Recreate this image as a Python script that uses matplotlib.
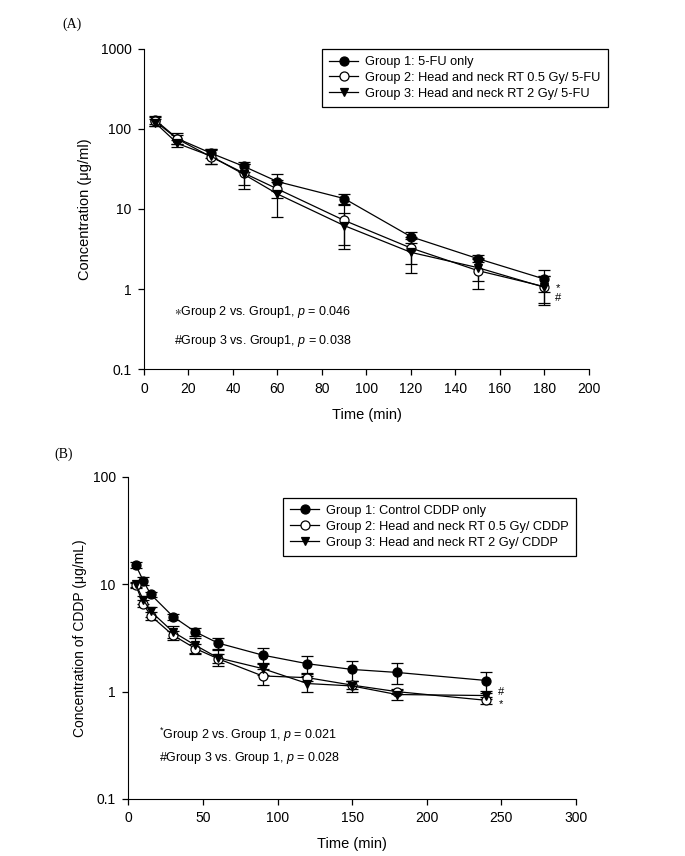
import matplotlib
matplotlib.use("Agg")
import matplotlib.pyplot as plt

plt.rcParams['font.family'] = ['Liberation Sans', 'DejaVu Sans']
plt.rcParams['mathtext.fontset'] = 'custom'
plt.rcParams['mathtext.rm'] = 'Liberation Sans'
plt.rcParams['mathtext.it'] = 'Liberation Sans:italic'
plt.rcParams['mathtext.fallback'] = 'stixsans'

# panel A: 5-FU
time_a = [5, 15, 30, 45, 60, 90, 120, 150, 180]
g1_a = [130, 76, 50, 34, 22, 13.5, 4.5, 2.4, 1.33]
g1_a_err = [15, 12, 6, 5, 5, 2, 0.7, 0.25, 0.4]
g2_a = [125, 75, 45, 28, 17.8, 7.2, 3.25, 1.7, 1.07]
g2_a_err = [15, 10, 9, 8, 4, 4, 1.2, 0.7, 0.4]
g3_a = [120, 66, 46, 27, 15.4, 6.2, 2.87, 1.85, 1.05]
g3_a_err = [12, 6, 10, 9, 7.5, 2.7, 1.3, 0.6, 0.42]
labels_a = ['Group 1: 5-FU only',
            'Group 2: Head and neck RT 0.5 Gy/ 5-FU',
            'Group 3: Head and neck RT 2 Gy/ 5-FU']

# panel B: CDDP
time_b = [5, 10, 15, 30, 45, 60, 90, 120, 150, 180, 240]
g1_b = [15.1, 10.8, 8.07, 5.0, 3.6, 2.84, 2.19, 1.82, 1.61, 1.51, 1.27]
g1_b_err = [1.0, 0.9, 0.4, 0.3, 0.3, 0.35, 0.38, 0.33, 0.34, 0.33, 0.26]
g2_b = [9.8, 6.6, 5.1, 3.35, 2.52, 2.03, 1.40, 1.35, 1.15, 1.0, 0.83]
g2_b_err = [0.5, 0.5, 0.4, 0.3, 0.25, 0.2, 0.24, 0.1, 0.1, 0.05, 0.06]
g3_b = [10.0, 7.2, 5.6, 3.6, 2.7, 2.07, 1.64, 1.19, 1.13, 0.94, 0.92]
g3_b_err = [0.6, 0.6, 0.6, 0.45, 0.45, 0.35, 0.2, 0.2, 0.13, 0.1, 0.06]
labels_b = ['Group 1: Control CDDP only',
            'Group 2: Head and neck RT 0.5 Gy/ CDDP',
            'Group 3: Head and neck RT 2 Gy/ CDDP']

styles = [dict(marker='o', mfc='black', ms=6.5),
          dict(marker='o', mfc='white', ms=6.5),
          dict(marker='v', mfc='black', ms=6)]

fig = plt.figure(figsize=(6.85, 8.56), dpi=100)
ax1 = fig.add_axes([0.2102, 0.5689, 0.6496, 0.3739])
ax2 = fig.add_axes([0.1873, 0.0666, 0.6536, 0.3762])


def draw(ax, t, series, labels):
    handles = []
    for (y, e), lab, st in zip(series, labels, styles):
        c = ax.errorbar(t, y, yerr=e, color='black', lw=0.9, elinewidth=0.9,
                        capsize=4, capthick=0.9, mec='black', mew=0.9,
                        label=lab, **st)
        handles.append(c[0])
    ax.set_yscale('log')
    ax.spines['top'].set_visible(False)
    ax.spines['right'].set_visible(False)
    ax.minorticks_off()
    ax.tick_params(direction='out', length=4, width=0.9, labelsize=10, pad=5)
    return handles


def legend(ax, handles, labels, anchor):
    leg = ax.legend(handles, labels, loc='upper left', bbox_to_anchor=anchor,
                    fontsize=9.2, fancybox=False, edgecolor='black', framealpha=1,
                    handlelength=2.3, borderpad=0.55, labelspacing=0.3,
                    handletextpad=0.55, borderaxespad=0)
    leg.get_frame().set_linewidth(0.9)


h = draw(ax1, time_a, [(g1_a, g1_a_err), (g2_a, g2_a_err), (g3_a, g3_a_err)], labels_a)
ax1.set_xlim(0, 200)
ax1.set_ylim(0.1, 1000)
ax1.set_xticks(range(0, 201, 20))
ax1.set_yticks([0.1, 1, 10, 100, 1000])
ax1.set_yticklabels(['0.1', '1', '10', '100', '1000'])
ax1.set_xlabel('Time (min)', fontsize=10.5, labelpad=9)
ax1.set_ylabel('Concentration (\u03bcg/ml)', fontsize=10.5, labelpad=6)
legend(ax1, h, labels_a, (0.40, 1.0))
ax1.text(0.067, 0.178, r'$\ast$Group 2 vs. Group1, $p$ = 0.046',
         transform=ax1.transAxes, fontsize=9, va='center')
ax1.text(0.067, 0.087, '#Group 3 vs. Group1, $p$ = 0.038',
         transform=ax1.transAxes, fontsize=9, va='center')
ax1.text(186, 1.03, '*', fontsize=8, va='center', ha='center')
ax1.text(186, 0.78, '#', fontsize=8, va='center', ha='center')

h = draw(ax2, time_b, [(g1_b, g1_b_err), (g2_b, g2_b_err), (g3_b, g3_b_err)], labels_b)
ax2.set_xlim(0, 300)
ax2.set_ylim(0.1, 100)
ax2.set_xticks(range(0, 301, 50))
ax2.set_yticks([0.1, 1, 10, 100])
ax2.set_yticklabels(['0.1', '1', '10', '100'])
ax2.set_xlabel('Time (min)', fontsize=10.5, labelpad=8)
ax2.set_ylabel('Concentration of CDDP (\u03bcg/mL)', fontsize=10, labelpad=4)
legend(ax2, h, labels_b, (0.3455, 0.935))
ax2.text(0.068, 0.2, '$^{*}$Group 2 vs. Group 1, $p$ = 0.021',
         transform=ax2.transAxes, fontsize=9, va='center')
ax2.text(0.068, 0.128, '#Group 3 vs. Group 1, $p$ = 0.028',
         transform=ax2.transAxes, fontsize=9, va='center')
ax2.text(250, 0.99, '#', fontsize=8, va='center', ha='center')
ax2.text(250, 0.76, '*', fontsize=8, va='center', ha='center')

fig.text(0.091, 0.972, '(A)', fontsize=10, family='Liberation Serif', va='center')
fig.text(0.080, 0.469, '(B)', fontsize=10, family='Liberation Serif', va='center')

fig.savefig('out.png', dpi=100)
